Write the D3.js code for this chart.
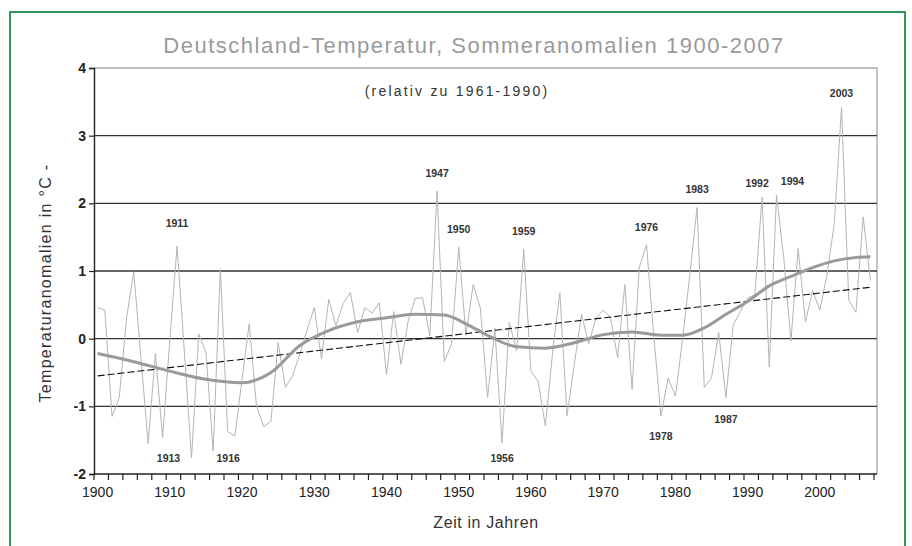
<!DOCTYPE html>
<html>
<head>
<meta charset="utf-8">
<script src="https://cdn.jsdelivr.net/npm/d3@7"></script>
<style>
  body { margin: 0; background: #fff; }
  text { font-family: "Liberation Sans", Arial, sans-serif; }
</style>
</head>
<body>
<div id="chart"></div>
<script>
// Sommeranomalien Deutschland 1900-2007 (relativ zu 1961-1990)
var years = d3.range(1900, 2008);
var anomalies = [
  0.46, 0.42, -1.15, -0.87, 0.30, 0.99, -0.28, -1.55, -0.22, -1.46,
  -0.02, 1.37, -0.18, -1.76, 0.07, -0.20, -1.66, 1.03, -1.37, -1.44,
  -0.60, 0.22, -1.00, -1.30, -1.22, -0.06, -0.72, -0.55, -0.22, 0.12,
  0.46, -0.30, 0.58, 0.19, 0.52, 0.68, 0.09, 0.46, 0.38, 0.53,
  -0.53, 0.40, -0.38, 0.26, 0.60, 0.60, 0.04, 2.18, -0.34, -0.08,
  1.35, 0.05, 0.80, 0.45, -0.87, 0.15, -1.54, 0.24, -0.18, 1.32,
  -0.48, -0.63, -1.29, -0.20, 0.68, -1.14, -0.38, 0.36, -0.08, 0.31,
  0.42, 0.32, -0.28, 0.80, -0.75, 1.05, 1.39, 0.05, -1.14, -0.58,
  -0.85, 0.00, 0.95, 1.94, -0.72, -0.58, 0.09, -0.87, 0.20, 0.40,
  0.60, 0.65, 2.09, -0.42, 2.12, 1.20, -0.03, 1.33, 0.25, 0.71,
  0.42, 0.95, 1.70, 3.42, 0.57, 0.39, 1.80, 0.86
];

// Smoothed curve (thick gray), read at a few years
var smoothYears  = [1900, 1905, 1910, 1915, 1920, 1924, 1928, 1932, 1936, 1940, 1944, 1948, 1951, 1954, 1958, 1962, 1966, 1970, 1974, 1978, 1981, 1984, 1987, 1990, 1993, 1996, 1999, 2002, 2005, 2007];
var smoothValues = [-0.22, -0.34, -0.48, -0.60, -0.65, -0.50, -0.10, 0.12, 0.25, 0.31, 0.36, 0.35, 0.22, 0.05, -0.12, -0.14, -0.06, 0.06, 0.10, 0.05, 0.05, 0.16, 0.36, 0.55, 0.78, 0.92, 1.05, 1.15, 1.20, 1.21];

// Linear trend, end points
var trendYears  = [1900, 2007];
var trendValues = [-0.55, 0.76];

// Labelled extremes
var peakYears = [1911, 1947, 1950, 1959, 1976, 1983, 1992, 1994, 2003];
var lowYears  = [1913, 1916, 1956, 1978, 1987];

var yTicks = [-2, -1, 0, 1, 2, 3, 4];
var xLabelYears = [1900, 1910, 1920, 1930, 1940, 1950, 1960, 1970, 1980, 1990, 2000];

var W = 912, H = 546;
var plot = {left: 94, right: 877, top: 68, bottom: 474};

var svg = d3.select("#chart").append("svg")
  .attr("width", W)
  .attr("height", H);

// green frame
svg.append("rect")
  .attr("x", 10).attr("y", 12)
  .attr("width", 895).attr("height", 560)
  .attr("fill", "none")
  .attr("stroke", "#2f9a5c")
  .attr("stroke-width", 2);

var x = d3.scaleBand()
  .domain(years)
  .range([plot.left, 874]);
var bw = x.bandwidth();
function xc(yr) { return x(yr) + bw / 2; }

var y = d3.scaleLinear()
  .domain([-2, 4])
  .range([plot.bottom, plot.top]);

// plot frame (top + right, light gray)
svg.append("path")
  .attr("d", "M" + plot.left + "," + y(4) + "H" + plot.right + "V" + plot.bottom)
  .attr("fill", "none")
  .attr("stroke", "#a8a8a8")
  .attr("stroke-width", 1.3);

// gridlines
svg.append("g")
  .selectAll("line")
  .data(yTicks.filter(function(d) { return d > -2 && d < 4; }))
  .enter().append("line")
  .attr("x1", plot.left).attr("x2", plot.right)
  .attr("y1", function(d) { return y(d); })
  .attr("y2", function(d) { return y(d); })
  .attr("stroke", "#333")
  .attr("stroke-width", 1.4);

// Y axis
var yAxis = svg.append("g")
  .attr("transform", "translate(" + plot.left + ",0)")
  .call(d3.axisLeft(y).tickValues(yTicks).tickSize(5).tickFormat(d3.format("d")));
yAxis.select(".domain").attr("stroke", "#222").attr("stroke-width", 1.4);
yAxis.selectAll(".tick line").attr("stroke", "#222").attr("stroke-width", 1.2);
yAxis.selectAll(".tick text")
  .attr("x", -8)
  .style("font-size", "14px")
  .style("font-weight", "bold")
  .attr("fill", "#222")
  .text(function(d) { return d < 0 ? "-" + Math.abs(d) : d; });

// X axis: ticks every two years at band edges
var xTickYears = years.filter(function(d) { return (d - 1900) % 2 === 0; });
var xAxisG = svg.append("g")
  .attr("transform", "translate(0," + plot.bottom + ")");
xAxisG.append("line")
  .attr("x1", plot.left).attr("x2", plot.right)
  .attr("stroke", "#222").attr("stroke-width", 1.4);
xAxisG.selectAll(".xt")
  .data(xTickYears.concat([2008]))
  .enter().append("line")
  .attr("class", "xt")
  .attr("x1", function(d) { return d === 2008 ? 874 : x(d); })
  .attr("x2", function(d) { return d === 2008 ? 874 : x(d); })
  .attr("y1", 0).attr("y2", 6)
  .attr("stroke", "#222").attr("stroke-width", 1.2);
xAxisG.selectAll(".xl")
  .data(xLabelYears)
  .enter().append("text")
  .attr("class", "xl")
  .attr("x", function(d) { return xc(d); })
  .attr("y", 23)
  .attr("text-anchor", "middle")
  .style("font-size", "14px")
  .attr("fill", "#222")
  .text(function(d) { return d; });

// data series
var series = years.map(function(yr, i) { return {year: yr, value: anomalies[i]}; });

svg.append("path")
  .datum(series)
  .attr("d", d3.line()
    .x(function(d) { return xc(d.year); })
    .y(function(d) { return y(d.value); }))
  .attr("fill", "none")
  .attr("stroke", "#b4b4b4")
  .attr("stroke-width", 1);

// linear trend
svg.append("path")
  .datum(trendYears.map(function(yr, i) { return {year: yr, value: trendValues[i]}; }))
  .attr("d", d3.line()
    .x(function(d) { return xc(d.year); })
    .y(function(d) { return y(d.value); }))
  .attr("fill", "none")
  .attr("stroke", "#111")
  .attr("stroke-width", 1.1)
  .attr("stroke-dasharray", "7,3");

// smoothed curve
svg.append("path")
  .datum(smoothYears.map(function(yr, i) { return {year: yr, value: smoothValues[i]}; }))
  .attr("d", d3.line()
    .curve(d3.curveMonotoneX)
    .x(function(d) { return xc(d.year); })
    .y(function(d) { return y(d.value); }))
  .attr("fill", "none")
  .attr("stroke", "#9a9a9a")
  .attr("stroke-width", 3);

// year labels at extremes (offsets as in the original layout)
var peakDy = {1911: -19, 1992: -10, 1994: -10, 2003: -10};
var peakDx = {1992: -5, 1994: 16};
var lowDx  = {1913: -23, 1916: 15};
var lowDy  = {1913: 4, 1916: 11, 1956: 19, 1978: 24, 1987: 25};

svg.append("g").selectAll("text")
  .data(peakYears)
  .enter().append("text")
  .attr("x", function(d) { return xc(d) + (peakDx[d] || 0); })
  .attr("y", function(d) { return y(anomalies[d - 1900]) + (peakDy[d] || -14); })
  .attr("text-anchor", "middle")
  .style("font-size", "10.5px")
  .style("font-weight", "bold")
  .attr("fill", "#333")
  .text(function(d) { return d; });
svg.append("g").selectAll("text")
  .data(lowYears)
  .enter().append("text")
  .attr("x", function(d) { return xc(d) + (lowDx[d] || 0); })
  .attr("y", function(d) { return y(anomalies[d - 1900]) + (lowDy[d] || 18); })
  .attr("text-anchor", "middle")
  .style("font-size", "10.5px")
  .style("font-weight", "bold")
  .attr("fill", "#333")
  .text(function(d) { return d; });

// titles
svg.append("text")
  .attr("x", 474).attr("y", 53)
  .attr("text-anchor", "middle")
  .style("font-size", "22px")
  .style("letter-spacing", "1.5px")
  .attr("fill", "#9a9a9a")
  .text("Deutschland-Temperatur, Sommeranomalien 1900-2007");

svg.append("text")
  .attr("x", 457).attr("y", 96)
  .attr("text-anchor", "middle")
  .style("font-size", "14px")
  .style("letter-spacing", "2.2px")
  .attr("fill", "#333")
  .text("(relativ zu 1961-1990)");

svg.append("text")
  .attr("x", 486).attr("y", 528)
  .attr("text-anchor", "middle")
  .style("font-size", "16px")
  .style("letter-spacing", "0.6px")
  .attr("fill", "#333")
  .text("Zeit in Jahren");

svg.append("text")
  .attr("transform", "translate(51,283) rotate(-90)")
  .attr("text-anchor", "middle")
  .style("font-size", "16px")
  .style("letter-spacing", "1.3px")
  .attr("fill", "#333")
  .text("Temperaturanomalien in °C  -");
</script>
</body>
</html>
